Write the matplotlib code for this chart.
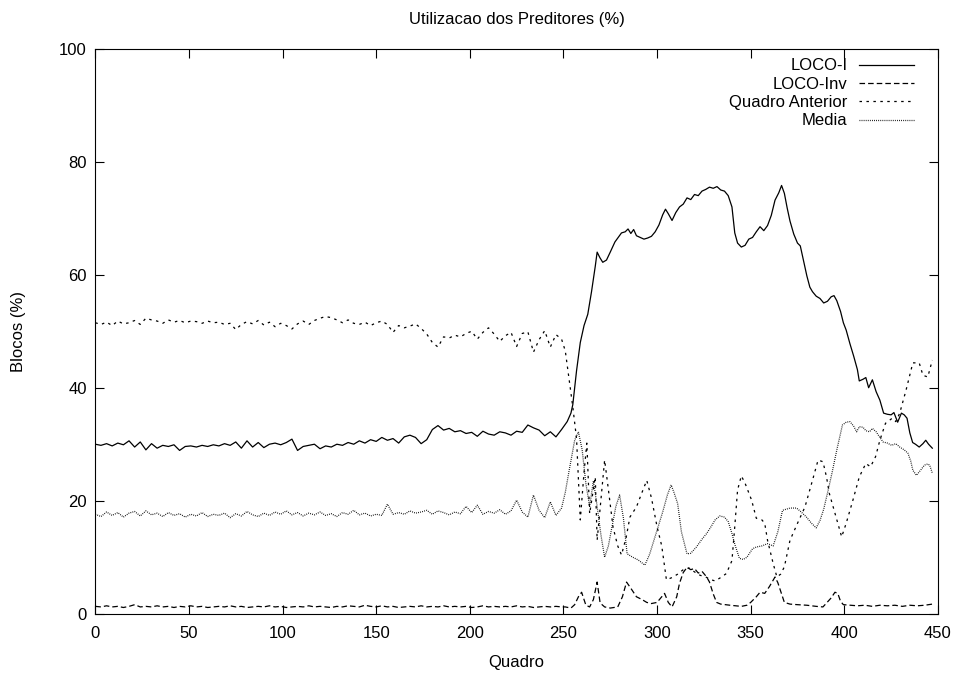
import numpy as np
import matplotlib
matplotlib.use("Agg")
import matplotlib.pyplot as plt

plt.rcParams['font.family'] = ['Liberation Sans', 'DejaVu Sans']
plt.rcParams['lines.scale_dashes'] = False

# quadros 0..249, amostrados a cada 3
early_frames = list(range(0, 250, 3))

# ---------------- LOCO-I ----------------
loco_i_early = [
    30.0, 29.8, 30.1, 29.7, 30.2, 29.9, 30.6, 29.5, 30.4, 29.0, 30.1, 29.3,
    29.8, 29.6, 29.9, 28.9, 29.6, 29.7, 29.5, 29.8, 29.6, 29.9, 29.7, 30.1,
    29.8, 30.4, 29.3, 30.6, 29.5, 30.3, 29.4, 30.0, 30.2, 29.9, 30.3, 30.9,
    28.9, 29.6, 29.8, 30.0, 29.2, 29.7, 29.5, 30.0, 29.8, 30.3, 30.0, 30.6,
    30.2, 30.8, 30.5, 31.2, 30.7, 31.0, 30.2, 31.3, 31.6, 31.2, 30.1, 30.8,
    32.6, 33.3, 32.5, 32.8, 32.2, 32.4, 31.9, 32.1, 31.4, 32.3, 31.8, 31.6,
    32.2, 32.0, 31.6, 32.3, 32.1, 33.4, 32.9, 32.5, 31.5, 32.2, 31.3, 32.6,
]
loco_i_late_frames = [
    252, 254, 255, 257, 259, 261, 263, 265, 267, 268, 269.5, 271, 273, 275,
    277.5, 279, 281, 283, 284.5, 286, 287.5, 289, 291, 293, 295, 297, 299,
    301, 303, 304.5, 306, 308, 310, 312, 314, 316, 318, 320, 322, 324, 326,
    328, 330, 332, 334, 336, 338, 340, 341.5, 343, 345, 347, 349, 351, 353,
    355, 357, 359, 361, 363, 365, 366.5, 368, 369.5, 371, 373, 375, 376.5,
    378, 380, 381.6, 383, 385, 387, 389, 391, 393, 394.5, 396, 398, 399.5,
    401, 403, 405, 407, 408, 410, 411.5, 413, 415, 417, 419, 421, 423, 425,
    426.5, 428.5, 430.5, 432, 433.5, 435, 436.5, 438, 440, 442, 443.5, 445, 447,
]
loco_i_late = [
    34.0, 35.5, 37.0, 43.0, 48.0, 51.0, 53.0, 57.0, 61.5, 64.0, 63.0, 62.2, 62.6, 64.0,
    65.8, 66.5, 67.4, 67.6, 68.1, 67.3, 68.0, 66.9, 66.6, 66.3, 66.5, 66.8, 67.6,
    68.8, 70.6, 71.6, 70.8, 69.6, 71.0, 72.0, 72.5, 73.6, 73.3, 74.2, 74.0, 74.8, 75.1,
    75.5, 75.3, 75.6, 75.0, 74.8, 74.0, 72.0, 67.4, 65.6, 64.9, 65.2, 66.3, 66.6, 67.6,
    68.5, 67.8, 68.7, 70.5, 73.2, 74.5, 75.8, 74.4, 71.8, 69.5, 67.2, 65.6, 65.1,
    62.8, 59.8, 57.8, 57.0, 56.2, 55.8, 55.0, 55.3, 56.1, 56.3, 55.4, 53.5, 51.5,
    50.2, 47.8, 45.6, 43.2, 41.2, 41.5, 41.8, 40.0, 41.4, 39.3, 37.8, 35.5, 35.3, 35.2,
    35.6, 33.9, 35.5, 35.2, 34.6, 32.0, 30.3, 30.0, 29.5, 30.1, 30.7, 30.0, 29.3,
]

# ---------------- LOCO-Inv ----------------
loco_inv_early = [
    1.3, 1.2, 1.4, 1.2, 1.3, 1.1, 1.3, 1.6, 1.2, 1.3, 1.2, 1.4,
    1.2, 1.3, 1.1, 1.3, 1.2, 1.4, 1.2, 1.3, 1.1, 1.2, 1.3, 1.2,
    1.4, 1.2, 1.3, 1.1, 1.2, 1.3, 1.2, 1.4, 1.2, 1.3, 1.1, 1.2,
    1.3, 1.2, 1.4, 1.2, 1.3, 1.2, 1.1, 1.3, 1.2, 1.4, 1.3, 1.2,
    1.5, 1.3, 1.2, 1.4, 1.2, 1.3, 1.1, 1.2, 1.3, 1.2, 1.4, 1.2,
    1.3, 1.2, 1.4, 1.2, 1.3, 1.2, 1.3, 1.1, 1.2, 1.4, 1.2, 1.3,
    1.2, 1.3, 1.2, 1.4, 1.2, 1.3, 1.1, 1.2, 1.3, 1.2, 1.3, 1.2,
]
loco_inv_late_frames = [
    251, 254, 256, 258, 259.7, 261, 262, 264, 266, 268, 269.6, 272, 275, 279,
    281.5, 283.7, 286, 289, 292, 294.5, 297, 300, 302, 304, 306, 308, 310.5,
    312, 314, 316, 318, 320, 322, 324, 326.5, 328, 330, 331.8, 334, 339, 345,
    348, 350, 353, 355, 357.5, 360, 363, 364.5, 366, 368, 371, 375, 380, 385,
    388.6, 390.5, 393, 395, 396.5, 398, 399.5, 403, 407, 411, 415, 419, 423,
    427, 431, 435, 439, 443, 447,
]
loco_inv_late = [
    1.2, 1.0, 1.6, 3.0, 3.8, 2.5, 1.5, 1.2, 2.5, 5.6, 1.9, 1.2, 1.0, 1.2,
    3.0, 5.6, 4.5, 3.0, 2.5, 2.0, 1.8, 2.0, 2.8, 3.6, 2.0, 1.2, 3.0,
    5.4, 7.3, 8.2, 7.8, 8.0, 7.2, 7.5, 6.5, 5.6, 3.5, 2.0, 1.7, 1.5, 1.3,
    1.5, 2.0, 3.0, 3.8, 3.6, 4.8, 6.5, 5.5, 4.0, 2.0, 1.7, 1.6, 1.5, 1.3,
    1.2, 1.9, 2.8, 3.8, 3.6, 2.2, 1.6, 1.5, 1.4, 1.5, 1.3, 1.5, 1.4,
    1.5, 1.3, 1.5, 1.4, 1.5, 1.7,
]

# ---------------- Quadro Anterior ----------------
quadro_early = [
    51.5, 51.2, 51.6, 51.0, 51.8, 51.3, 51.5, 51.9, 51.2, 52.3, 52.0, 51.8,
    51.4, 52.0, 51.6, 51.9, 51.5, 51.8, 51.7, 51.4, 51.8, 51.5, 51.6, 51.2,
    51.4, 50.3, 51.2, 51.7, 51.3, 51.9, 51.1, 51.6, 50.8, 51.4, 51.0, 50.4,
    51.3, 51.8, 51.2, 51.9, 52.3, 52.6, 52.4, 52.0, 51.5, 52.0, 51.4, 51.2,
    51.6, 51.0, 51.5, 51.8, 51.2, 49.8, 51.0, 50.6, 50.9, 51.3, 50.5, 49.5,
    48.0, 47.2, 49.0, 48.8, 49.3, 49.0, 49.6, 50.0, 48.6, 49.8, 50.6, 49.5,
    48.2, 49.2, 49.8, 47.3, 49.6, 49.9, 46.3, 48.5, 50.1, 47.2, 49.4, 48.6,
]
quadro_late_frames = [
    251, 253, 255, 257, 259, 261, 262.5, 264, 265.5, 267, 268, 270, 272, 274,
    276.5, 279, 281, 283.5, 285.5, 289, 292, 294.5, 297, 300, 302.5, 305, 308,
    311, 314, 317, 320, 323, 326, 329, 331, 333.5, 337, 340, 341.5, 343, 345,
    347, 350.5, 353, 356, 357.5, 359, 362, 364, 366, 368, 371, 375, 379, 383,
    386, 388.6, 390.5, 392, 396, 398.6, 401, 404.6, 408, 411.5, 414, 416.7,
    419, 422, 425.6, 427.5, 429.6, 433, 436.6, 440, 442, 444.6, 447,
]
quadro_late = [
    46.5, 41.5, 36.6, 31.0, 16.6, 25.0, 30.2, 17.7, 21.0, 24.2, 13.0, 20.0, 27.2, 22.0,
    15.3, 12.0, 10.4, 13.5, 17.1, 18.9, 21.5, 23.6, 20.5, 15.4, 12.0, 6.0, 6.4,
    7.0, 7.8, 8.1, 7.4, 6.8, 6.5, 6.0, 5.8, 6.3, 7.1, 9.4, 15.4, 21.9, 24.4,
    23.1, 20.1, 16.9, 16.6, 16.0, 13.0, 8.9, 6.5, 7.0, 8.3, 13.0, 16.0, 18.9, 23.6,
    27.2, 26.9, 24.2, 21.3, 16.6, 13.6, 16.0, 20.1, 24.2, 26.6, 26.0, 27.8,
    30.7, 33.7, 34.6, 34.0, 35.5, 39.6, 44.4, 44.4, 42.2, 41.9, 44.9,
]

# ---------------- Media ----------------
media_early = [
    17.6, 17.2, 18.0, 17.4, 17.9, 17.1, 17.8, 18.1, 17.3, 18.2, 17.5, 17.8,
    17.2, 17.9, 17.4, 17.7, 17.1, 17.6, 17.3, 17.9, 17.2, 17.6, 17.4, 17.8,
    17.0, 17.7, 17.3, 18.1, 17.5, 17.2, 17.8, 17.4, 18.0, 17.6, 18.2, 17.5,
    17.9, 17.3, 17.8, 17.5, 18.0, 17.4, 17.7, 17.2, 17.9, 17.6, 18.3, 17.5,
    17.8, 17.3, 17.6, 17.4, 19.4, 17.6, 17.9, 17.6, 18.2, 17.8, 18.0, 18.3,
    17.6, 18.2, 17.9, 17.5, 18.0, 17.7, 19.0, 17.9, 19.2, 17.6, 18.1, 17.8,
    18.4, 17.6, 18.2, 20.1, 18.0, 17.1, 21.0, 18.3, 17.0, 19.8, 17.4, 18.7,
]
media_late_frames = [
    251, 253.4, 256, 258, 260, 262, 264, 266, 268, 270, 272, 274, 276, 278,
    280, 282, 284, 287, 290, 293.5, 296, 300, 303, 305.5, 307.5, 309, 311,
    313, 316, 318, 321, 324, 326.5, 329, 331, 333.5, 336, 338, 340, 341.5,
    344, 346, 348, 351, 353, 356, 359, 362, 364.5, 367, 369, 371, 374.5, 377,
    379.8, 382.5, 385, 387, 389, 391.4, 393.5, 396, 399, 401, 403, 405,
    406.6, 408, 410, 411.5, 413.5, 415, 417, 419, 420.7, 423, 425.3, 427.5,
    429.6, 432, 434, 435.5, 436.6, 438.5, 440.5, 442.8, 444.5, 445.6, 447,
]
media_late = [
    21.5, 26.0, 30.7, 32.2, 29.0, 23.0, 19.0, 23.5, 19.0, 14.0, 10.0, 12.0, 15.5, 19.0,
    21.0, 17.0, 10.6, 10.0, 9.5, 8.6, 10.5, 14.8, 18.0, 21.0, 22.8, 21.5, 19.5,
    14.5, 10.6, 10.7, 11.8, 13.2, 14.2, 15.5, 16.6, 17.3, 17.1, 16.3, 14.2, 12.3,
    9.8, 9.6, 10.0, 11.5, 11.8, 12.0, 12.4, 12.0, 14.5, 18.3, 18.5, 18.7, 18.7, 18.0,
    17.1, 16.0, 15.2, 16.5, 18.5, 21.9, 25.0, 29.0, 33.4, 33.9, 34.0, 33.2,
    32.2, 33.1, 33.0, 32.4, 32.2, 32.8, 32.2, 31.2, 30.4, 30.2, 29.8, 30.1,
    29.5, 29.0, 28.4, 27.0, 25.4, 24.5, 25.3, 26.3, 26.5, 26.3, 24.9,
]

series = [
    ("LOCO-I", loco_i_early, loco_i_late_frames, loco_i_late, '-', None),
    ("LOCO-Inv", loco_inv_early, loco_inv_late_frames, loco_inv_late, '--', (4.0, 2.2)),
    ("Quadro Anterior", quadro_early, quadro_late_frames, quadro_late, '--', (1.8, 3.2)),
    ("Media", media_early, media_late_frames, media_late, ':', (0.6, 0.9)),
]

FS = 12

fig = plt.figure(figsize=(9.6, 6.75), dpi=100)
ax = fig.add_axes([0.0993, 0.0908, 0.8777, 0.8370])

for name, early, late_x, late_y, ls, dash in series:
    x = early_frames + late_x
    y = early + late_y
    line, = ax.plot(x, y, color='black', linewidth=0.9, linestyle=ls, label=name)
    if dash is not None:
        line.set_dashes(dash)

ax.set_xlim(0, 450)
ax.set_ylim(0, 100)
ax.set_xticks(range(0, 451, 50))
ax.set_yticks(range(0, 101, 20))
ax.tick_params(direction='in', length=6.5, width=0.8, top=True, right=True,
               labelsize=FS)
ax.tick_params(axis='x', pad=9)
ax.tick_params(axis='y', pad=6)
for sp in ax.spines.values():
    sp.set_linewidth(0.8)

ax.set_title("Utilizacao dos Preditores (%)", fontsize=FS, pad=18)
ax.set_xlabel("Quadro", fontsize=FS, labelpad=10)
ax.set_ylabel("Blocos (%)", fontsize=FS, labelpad=24)

ax.legend(loc='upper right', bbox_to_anchor=(0.972, 0.983), frameon=False,
          markerfirst=False, fontsize=FS, handlelength=3.3, handletextpad=0.7,
          labelspacing=0.2, borderpad=0.0, borderaxespad=0.0)

fig.savefig("out.png", dpi=100)
